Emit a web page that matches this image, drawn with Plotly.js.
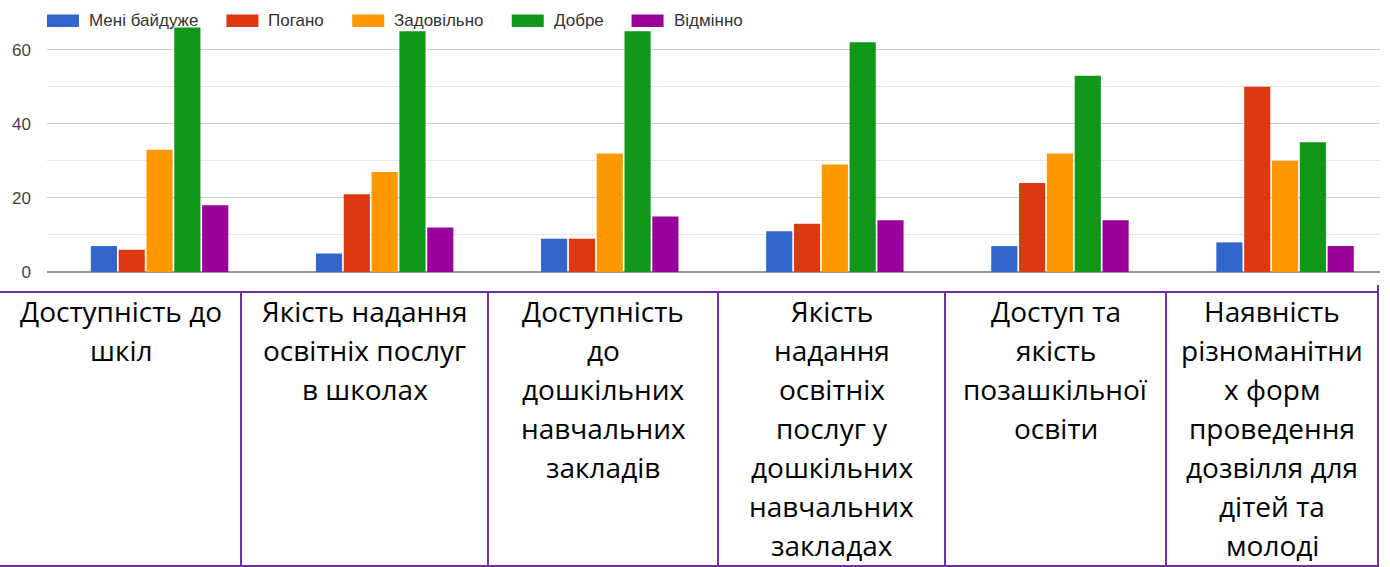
<!DOCTYPE html>
<html>
<head>
<meta charset="utf-8">
<script src="https://cdn.plot.ly/plotly-3.0.1.min.js"></script>
<style>
html,body{margin:0;padding:0;background:#fff;}
#chart{width:1390px;height:567px;}
</style>
</head>
<body>
<div id="chart"></div>
<script>
// ---- data ----
const categories = [
  'Доступність до<br>шкіл',
  'Якість надання<br>освітніх послуг<br>в школах',
  'Доступність<br>до<br>дошкільних<br>навчальних<br>закладів',
  'Якість<br>надання<br>освітніх<br>послуг у<br>дошкільних<br>навчальних<br>закладах',
  'Доступ та<br>якість<br>позашкільної<br>освіти',
  'Наявність<br>різноманітни<br>х форм<br>проведення<br>дозвілля для<br>дітей та<br>молоді'
];
const seriesNames = ['Мені байдуже', 'Погано', 'Задовільно', 'Добре', 'Відмінно'];
const valsIndifferent  = [7, 5, 9, 11, 7, 8];
const valsBad          = [6, 21, 9, 13, 24, 50];
const valsSatisfactory = [33, 27, 32, 29, 32, 30];
const valsGood         = [66, 65, 65, 62, 53, 35];
const valsExcellent    = [18, 12, 15, 14, 14, 7];
const yTickVals = [0, 20, 40, 60];

// ---- styles / layout ----
const seriesValues = [valsIndifferent, valsBad, valsSatisfactory, valsGood, valsExcellent];
const seriesColors = ['#3366cc', '#dc3912', '#ff9900', '#109618', '#990099'];
const W = 1390, H = 567;
const M = {l: 47, r: 10, t: 24, b: 295};
const pw = W - M.l - M.r, ph = H - M.t - M.b;
const pxPerUnit = 3.705;
const px = v => (v - M.l) / pw;
const py = v => (H - M.b - v) / ph;

const traces = seriesNames.map((n, i) => ({
  type: 'bar',
  name: n,
  x: categories,
  y: seriesValues[i],
  marker: {color: seriesColors[i], line: {width: 0}},
  cliponaxis: false,
  hoverinfo: 'x+y+name'
}));

const shapes = [];
const annotations = [];

// custom legend (measured text widths)
const cv = document.createElement('canvas').getContext('2d');
const legendFont = 'Liberation Sans, Arial, sans-serif';
cv.font = '17px "Liberation Sans", Arial, sans-serif';
let cx = 47;
seriesNames.forEach((n, i) => {
  shapes.push({type: 'rect', xref: 'paper', yref: 'paper',
    x0: px(cx), x1: px(cx + 32), y0: py(27), y1: py(14.5),
    fillcolor: seriesColors[i], line: {width: 0}, layer: 'above'});
  annotations.push({xref: 'paper', yref: 'paper', x: px(cx + 41), y: py(21),
    xanchor: 'left', yanchor: 'middle', text: n, showarrow: false, borderpad: 0,
    font: {family: legendFont, size: 17, color: '#333'}});
  cx += 41 + cv.measureText(n).width + 29;
});

// table below chart
const tableColor = '#7030a0';
const tableTop = 292, tableBottom = 566, tableRight = 1378;
const cellEdges = [0, 241, 488, 718, 945, 1166, 1378];
function line(x0, y0, x1, y1) {
  shapes.push({type: 'line', xref: 'paper', yref: 'paper',
    x0: px(x0), y0: py(y0), x1: px(x1), y1: py(y1),
    line: {color: tableColor, width: 2}});
}
line(0, tableTop, tableRight, tableTop);
line(0, tableBottom, tableRight, tableBottom);
for (let k = 1; k < cellEdges.length - 1; k++) line(cellEdges[k], tableTop, cellEdges[k], tableBottom);
line(tableRight, 285, tableRight, 567);

const firstLineY = 311, lineStep = 39.05;
categories.forEach((c, i) => {
  const center = (cellEdges[i] + cellEdges[i + 1]) / 2;
  c.split('<br>').forEach((t, k) => {
    annotations.push({xref: 'paper', yref: 'paper', x: px(center), y: py(firstLineY + k * lineStep),
      xanchor: 'center', yanchor: 'middle', text: t, showarrow: false, borderpad: 0,
      font: {family: 'Open Sans, Noto Sans, sans-serif', size: 28, color: '#000'}});
  });
});

const layout = {
  width: W, height: H,
  margin: M,
  paper_bgcolor: '#fff', plot_bgcolor: '#fff',
  font: {family: 'Liberation Sans, Arial, sans-serif', size: 17, color: '#444'},
  showlegend: false,
  barmode: 'group',
  bargap: 0.382,
  bargroupgap: 0.06,
  xaxis: {
    type: 'category', range: [-0.5, -0.5 + pw / 225.1],
    showticklabels: false, showgrid: false, zeroline: false, showline: false, ticks: '',
    fixedrange: true
  },
  yaxis: {
    range: [0, ph / pxPerUnit],
    tickvals: yTickVals,
    ticks: '',
    ticklabelstandoff: 15,
    tickfont: {size: 17, color: '#444'},
    showgrid: true, gridcolor: '#cccccc', gridwidth: 1,
    minor: {dtick: 10, tick0: 0, showgrid: true, gridcolor: '#e6e6e6', gridwidth: 1, ticks: ''},
    zeroline: true, zerolinecolor: '#999999', zerolinewidth: 2,
    showline: false, fixedrange: true
  },
  shapes: shapes,
  annotations: annotations
};

Plotly.newPlot('chart', traces, layout, {displayModeBar: false, staticPlot: true});
</script>
</body>
</html>
